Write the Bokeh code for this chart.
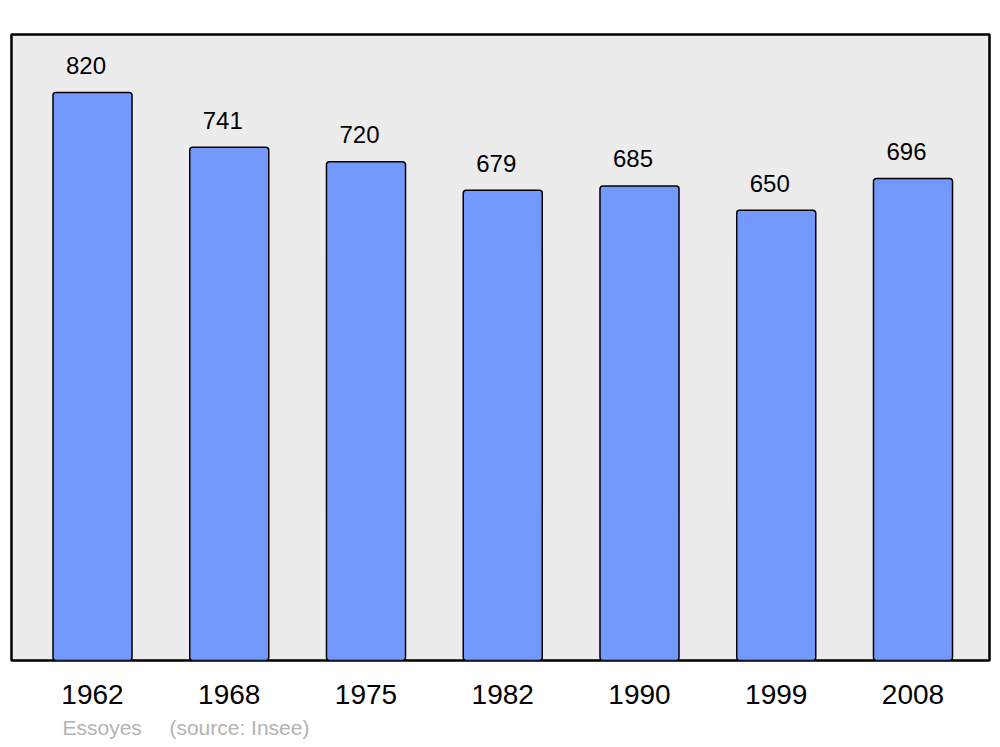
from bokeh.plotting import figure
from bokeh.models import Range1d, ColumnDataSource, Title
from bokeh.embed import file_html
from bokeh.resources import INLINE
from bokeh.core.properties import value

years = ["1962", "1968", "1975", "1982", "1990", "1999", "2008"]
population = [820, 741, 720, 679, 685, 650, 696]
place = "Essoyes"
source_note = "(source: Insee)"

idx = list(range(len(years)))
src = ColumnDataSource(dict(x=idx, top=population, lab=[str(v) for v in population]))

W, H = 995, 747
p = figure(width=W, height=H, output_backend="svg", toolbar_location=None,
           x_range=Range1d(-0.5923, 6.5594), y_range=Range1d(0, 903.7),
           min_border_left=11, min_border_right=W - 989, min_border_top=34,
           min_border_bottom=H - 660)
p.background_fill_color = "#ececec"
p.border_fill_color = "white"
p.outline_line_color = "black"
p.outline_line_width = 2.5
p.xgrid.visible = False
p.ygrid.visible = False
p.yaxis.visible = False

p.vbar(x="x", top="top", bottom=0, width=0.578, source=src,
       fill_color="#7399ff", line_color="black", line_width=1.5, border_radius=3)

p.text(x="x", y="top", text="lab", source=src, x_offset=-6.5, y_offset=-27,
       text_align="center", text_baseline="alphabetic",
       text_font=value("Liberation Sans"), text_font_size="24px", text_color="black")

ax = p.xaxis[0]
ax.ticker = idx
ax.major_label_overrides = {i: y for i, y in zip(idx, years)}
ax.axis_line_color = None
ax.major_tick_line_color = None
ax.minor_tick_line_color = None
ax.major_label_text_font = "Liberation Sans"
ax.major_label_text_font_size = "28px"
ax.major_label_text_color = "black"
ax.major_label_standoff = 18

footer = Title(text=place + "\u00a0" * 4 + "\u2009" + source_note, align="left", offset=51,
               text_font="Liberation Sans", text_font_size="21px",
               text_font_style="normal", text_color="#b3b3b3", standoff=14)
p.add_layout(footer, "below")

open("out.html", "w").write(file_html(p, INLINE))
